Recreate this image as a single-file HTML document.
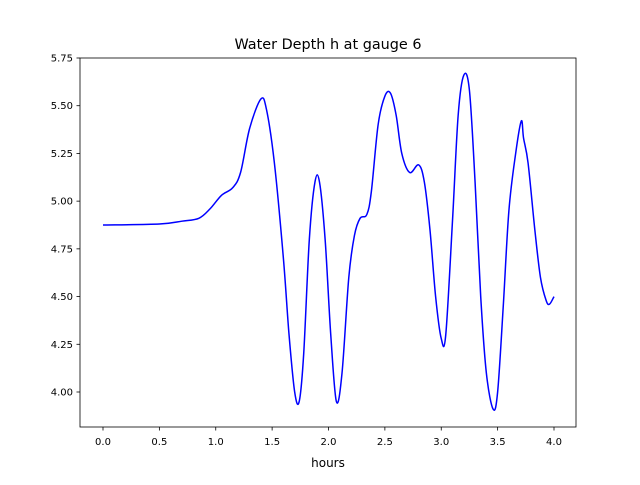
<!DOCTYPE html>
<html><head><meta charset="utf-8"><style>
html,body{margin:0;padding:0;background:#fff;}
svg text{font-family:"DejaVu Sans","Liberation Sans",sans-serif;}
</style></head><body>
<svg id="chart" width="640" height="480" viewBox="0 0 640 480" xmlns="http://www.w3.org/2000/svg">
<rect width="640" height="480" fill="#fff"/>
<text x="328" y="49" font-size="14.4" text-anchor="middle">Water Depth h at gauge 6</text>
<g id="ticks"></g>
<path id="line" fill="none" stroke="#0000ff" stroke-width="1.5"/>
<rect x="80" y="58" width="496" height="369" fill="none" stroke="#000" stroke-width="0.8"/>
<text x="328" y="467" font-size="12" text-anchor="middle">hours</text>
</svg>
<script>
const hours=[0,0.5,0.7,0.85,0.95,1.05,1.15,1.22,1.3,1.4,1.45,1.52,1.6,1.65,1.7,1.74,1.78,1.83,1.88,1.92,1.97,2.02,2.07,2.12,2.18,2.23,2.28,2.34,2.38,2.44,2.5,2.55,2.6,2.65,2.72,2.8,2.85,2.9,2.95,3.0,3.04,3.1,3.15,3.2,3.25,3.3,3.35,3.4,3.46,3.5,3.55,3.6,3.66,3.71,3.73,3.77,3.83,3.88,3.93,3.96,4.0];
const depth=[4.875,4.88,4.895,4.91,4.96,5.03,5.07,5.15,5.38,5.535,5.48,5.2,4.7,4.3,4.0,3.95,4.2,4.8,5.1,5.1,4.8,4.3,3.95,4.1,4.6,4.82,4.91,4.93,5.05,5.4,5.55,5.565,5.45,5.25,5.15,5.19,5.1,4.85,4.5,4.28,4.3,4.9,5.45,5.66,5.58,5.1,4.5,4.1,3.91,4.0,4.45,4.95,5.25,5.42,5.33,5.2,4.85,4.6,4.48,4.46,4.5];
const xTicks=[0,0.5,1,1.5,2,2.5,3,3.5,4];
const xTickLabels=["0.0","0.5","1.0","1.5","2.0","2.5","3.0","3.5","4.0"];
const yTicks=[4,4.25,4.5,4.75,5,5.25,5.5,5.75];
const yTickLabels=["4.00","4.25","4.50","4.75","5.00","5.25","5.50","5.75"];
const X=v=>103+v*112.75;
const Y=v=>392-(v-4)*190.86;
const NS="http://www.w3.org/2000/svg";
const g=document.getElementById('ticks');
function mk(t,a){const e=document.createElementNS(NS,t);for(const k in a)e.setAttribute(k,a[k]);g.appendChild(e);return e;}
xTicks.forEach((v,i)=>{
 const l=mk('line',{x1:X(v),x2:X(v),y1:427,y2:430.5,stroke:'#000','stroke-width':0.8});
 
 
 const t=mk('text',{x:X(v),y:445,'font-size':10,'text-anchor':'middle'});
 t.textContent=xTickLabels[i];
 
 
});
yTicks.forEach((v,i)=>{
 const l=mk('line',{x1:76.5,x2:80,y1:Y(v),y2:Y(v),stroke:'#000','stroke-width':0.8});
 
 
 const t=mk('text',{x:73,y:Y(v)+3.5,'font-size':10,'text-anchor':'end'});
 t.textContent=yTickLabels[i];
 
 
});
const P=hours.map((h,i)=>[X(h),Y(depth[i])]);
let d='M'+P[0][0]+','+P[0][1];
for(let i=0;i<P.length-1;i++){
 const p0=P[Math.max(i-1,0)],p1=P[i],p2=P[i+1],p3=P[Math.min(i+2,P.length-1)];
 const c1=[p1[0]+(p2[0]-p0[0])/6,p1[1]+(p2[1]-p0[1])/6];
 const c2=[p2[0]-(p3[0]-p1[0])/6,p2[1]-(p3[1]-p1[1])/6];
 d+=` C${c1[0]},${c1[1]} ${c2[0]},${c2[1]} ${p2[0]},${p2[1]}`;
}
document.getElementById('line').setAttribute('d',d);
</script>
</body></html>
